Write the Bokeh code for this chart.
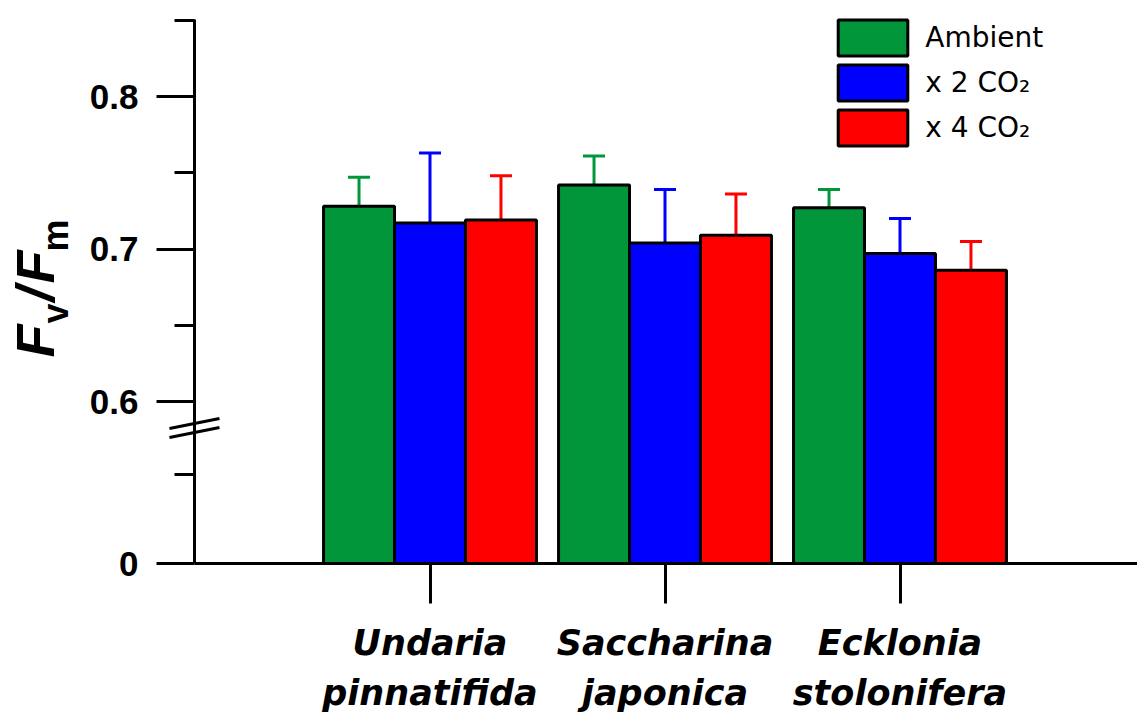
import numpy as np
from bokeh.plotting import figure
from bokeh.models import (FixedTicker, Whisker, TeeHead, ColumnDataSource, Legend,
                          LegendItem, Label, Arrow, Range1d)
from bokeh.embed import file_html
from bokeh.resources import INLINE

# ---------------- data ----------------
species = ["Undaria\npinnatifida", "Saccharina\njaponica", "Ecklonia\nstolonifera"]
treatments = ["Ambient", "x 2 CO\u2082", "x 4 CO\u2082"]
ambient = [0.728, 0.742, 0.727]
ambient_err = [0.019, 0.019, 0.012]
co2_x2 = [0.717, 0.704, 0.697]
co2_x2_err = [0.046, 0.035, 0.023]
co2_x4 = [0.719, 0.709, 0.686]
co2_x4_err = [0.029, 0.027, 0.019]
y_tick_values = [0.6, 0.7, 0.8]
y_tick_labels = ["0.6", "0.7", "0.8"]
y_minor_values = [0.65, 0.75, 0.85]
colors = ["#009639", "#0000FF", "#FF0000"]

# ---------------- layout (the frame covers the whole canvas) ----------------
W, H = 1137, 717
PXU_X, PXU_Y = 235.0, 1525.0          # pixels per data unit
X0_PAGE, Y08_PAGE = 429.5, 96.0       # page position of x=0 and y=0.8
X_START = -X0_PAGE / PXU_X
X_END = (W - X0_PAGE) / PXU_X
Y_TOP = 0.8 + Y08_PAGE / PXU_Y
Y_BOTTOM = 0.8 - (H - Y08_PAGE) / PXU_Y


def dx(page_x):
    return X_START + page_x / PXU_X


def dy(page_y):
    return Y_TOP - page_y / PXU_Y


ZERO_POS = dy(563)       # where the value 0 is drawn (broken axis)
LOWER_MINOR = dy(474)    # minor tick below the break
AXIS_TOP = 0.8505
Y_AXIS_X = dx(194)
BAR_W = 0.302
offsets = [-BAR_W, 0.0, BAR_W]

p = figure(width=W, height=H, output_backend="svg", toolbar_location=None,
           x_range=Range1d(X_START, X_END), y_range=Range1d(Y_BOTTOM, Y_TOP),
           min_border=0)
p.outline_line_color = None
p.grid.visible = False
p.background_fill_color = "white"

means = [ambient, co2_x2, co2_x4]
errs = [ambient_err, co2_x2_err, co2_x4_err]
renderers = []
for i in range(3):
    xs = np.arange(len(species)) + offsets[i]
    top = np.array(means[i])
    src = ColumnDataSource(dict(x=xs, top=top, upper=top + np.array(errs[i])))
    wk = Whisker(base="x", lower="top", upper="upper", source=src,
                 line_color=colors[i], line_width=3,
                 upper_head=TeeHead(size=22, line_color=colors[i], line_width=3),
                 lower_head=None, level="underlay")
    p.add_layout(wk)
    r = p.vbar(x="x", top="top", bottom=ZERO_POS, width=BAR_W, source=src,
               fill_color=colors[i], line_color="black", line_width=3)
    renderers.append(r)

# ---------------- axes ----------------
ya = p.yaxis[0]
ya.fixed_location = Y_AXIS_X
ya.bounds = (ZERO_POS, AXIS_TOP)
ya.ticker = FixedTicker(ticks=[ZERO_POS] + y_tick_values,
                        minor_ticks=[LOWER_MINOR] + y_minor_values)
ov = {ZERO_POS: "0"}
for v, t in zip(y_tick_values, y_tick_labels):
    ov[v] = t
ya.major_label_overrides = ov
ya.axis_line_width = 3
ya.major_tick_line_width = 3
ya.minor_tick_line_width = 3
ya.major_tick_out = 38
ya.major_tick_in = 0
ya.minor_tick_out = 20
ya.minor_tick_in = 0
ya.major_label_standoff = 18
ya.major_label_text_font = "Liberation Sans"
ya.major_label_text_font_style = "bold"
ya.major_label_text_font_size = "35px"
ya.major_label_text_color = "black"

xa = p.xaxis[0]
xa.fixed_location = ZERO_POS
xa.bounds = (Y_AXIS_X, X_END)
xa.ticker = FixedTicker(ticks=list(range(len(species))), minor_ticks=[])
xa.major_label_overrides = {i: s for i, s in enumerate(species)}
xa.axis_line_width = 3
xa.major_tick_line_width = 3
xa.major_tick_out = 40
xa.major_tick_in = 0
xa.minor_tick_line_color = None
xa.major_label_standoff = 19
xa.major_label_text_font = "DejaVu Sans"
xa.major_label_text_font_style = "bold italic"
xa.major_label_text_font_size = "35px"
xa.major_label_text_line_height = 1.25
xa.major_label_text_color = "black"

# axis break marks
for y0 in (428, 437):
    p.add_layout(Arrow(x_start=dx(169), y_start=dy(y0), x_end=dx(219), y_end=dy(y0 - 10),
                       start=None, end=None, line_width=3, line_color="black"))

# y-axis title: F_v / F_m  (main letters bold italic, subscripts bold upright)
pieces = [("F", 34, 357, "54px", "bold italic"), ("v", 55, 323, "36px", "bold"),
          ("/", 34, 301, "54px", "bold italic"), ("F", 34, 283, "54px", "bold italic"),
          ("m", 55, 251, "36px", "bold")]
for txt, bx, by, fs, st in pieces:
    p.add_layout(Label(x=dx(bx), y=dy(by), text=txt, angle=np.pi / 2,
                       text_align="left", text_baseline="alphabetic",
                       text_font="Liberation Sans", text_font_style=st,
                       text_font_size=fs, text_color="black"))

# ---------------- legend ----------------
GW, GH = 87.5, 45.0   # legend glyph area (box is drawn at 80 % of it)
legend = Legend(items=[LegendItem(label=treatments[i], renderers=[renderers[i]]) for i in range(3)],
                location=(838 - GW * 0.1, H - (19 - GH * 0.1) - 3 * GH),
                glyph_width=int(GW), glyph_height=int(GH), spacing=0,
                label_standoff=9, padding=0, margin=0, border_line_color=None,
                background_fill_alpha=0, label_text_font="DejaVu Sans",
                label_text_font_size="28px", label_text_color="black")
p.add_layout(legend)

open("out.html", "w").write(file_html(p, INLINE))
